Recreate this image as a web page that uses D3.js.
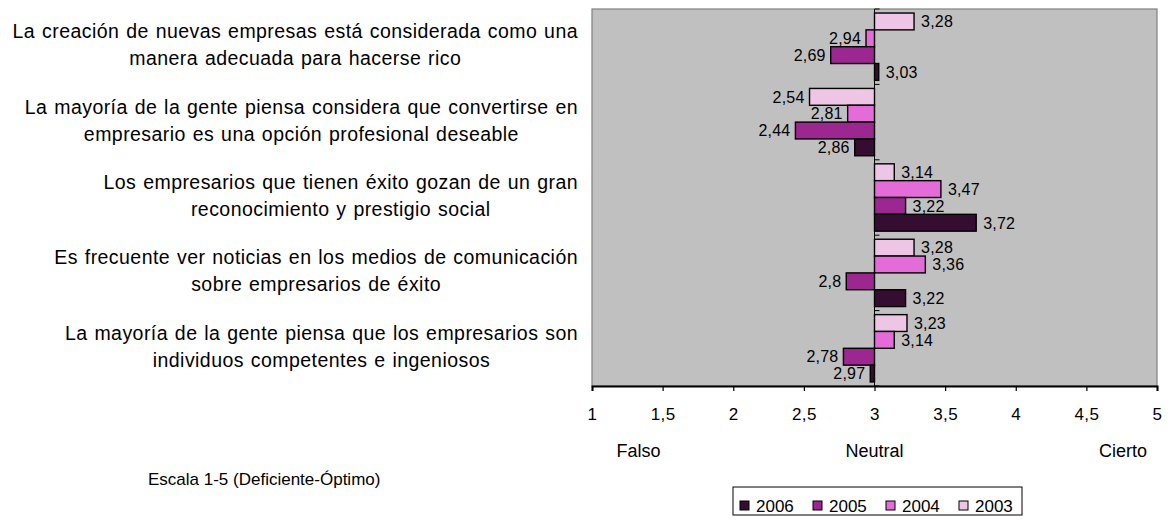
<!DOCTYPE html>
<html>
<head>
<meta charset="utf-8">
<script src="https://cdn.jsdelivr.net/npm/d3@7"></script>
<style>
  html, body { margin: 0; padding: 0; background: #ffffff; }
  svg { display: block; font-family: "Liberation Sans", Arial, sans-serif; }
</style>
</head>
<body>
<svg id="chart" width="1168" height="524"></svg>
<script>
// Survey statements (each split into its display lines), top to bottom
const categories = [
  ["La creación de nuevas empresas está considerada como una", "manera adecuada para hacerse rico"],
  ["La mayoría de la gente piensa considera que convertirse en", "empresario es una opción profesional deseable"],
  ["Los empresarios que tienen éxito gozan de un gran", "reconocimiento y prestigio social"],
  ["Es frecuente ver noticias en los medios de comunicación", "sobre empresarios de éxito"],
  ["La mayoría de la gente piensa que los empresarios son", "individuos competentes e ingeniosos"]
];

// Yearly scores on the 1-5 scale, one value per statement
const years = ["2003", "2004", "2005", "2006"];
const values2003 = [3.28, 2.54, 3.14, 3.28, 3.23];
const values2004 = [2.94, 2.81, 3.47, 3.36, 3.14];
const values2005 = [2.69, 2.44, 3.22, 2.80, 2.78];
const values2006 = [3.03, 2.86, 3.72, 3.22, 2.97];

const xTicks = [1, 1.5, 2, 2.5, 3, 3.5, 4, 4.5, 5];
const scaleNames = [{ v: 1.33, t: "Falso" }, { v: 3, t: "Neutral" }, { v: 4.76, t: "Cierto" }];
const legendOrder = ["2006", "2005", "2004", "2003"];
const footnote = "Escala 1-5 (Deficiente-Óptimo)";

const seriesByYear = { "2003": values2003, "2004": values2004, "2005": values2005, "2006": values2006 };
const colors = { "2006": "#350d31", "2005": "#9c2790", "2004": "#e36cd9", "2003": "#efc5e6" };

const svg = d3.select("#chart");
const plot = { left: 592, right: 1157, top: 9, bottom: 386 };

const x = d3.scaleLinear().domain([1, 5]).range([plot.left, plot.right]);
const catIdx = d3.range(categories.length);
const y = d3.scaleBand().domain(catIdx).range([plot.top, plot.bottom])
  .paddingInner(0.107).paddingOuter(0.0535);
const ySub = d3.scaleBand().domain(years).range([0, y.bandwidth()]);

const fmt = v => String(v).replace(".", ",");

// Plot background
svg.append("rect")
  .attr("x", plot.left).attr("y", plot.top)
  .attr("width", plot.right - plot.left).attr("height", plot.bottom - plot.top)
  .attr("fill", "#c0c0c0").attr("stroke", "#808080").attr("stroke-width", 1.2);

// Bars
const rows = [];
catIdx.forEach(i => years.forEach(yr => rows.push({ i, yr, v: seriesByYear[yr][i] })));

svg.append("g").selectAll("rect").data(rows).join("rect")
  .attr("x", d => x(Math.min(d.v, 3)))
  .attr("y", d => y(d.i) + ySub(d.yr))
  .attr("width", d => Math.abs(x(d.v) - x(3)))
  .attr("height", ySub.bandwidth())
  .attr("fill", d => colors[d.yr])
  .attr("stroke", "#000").attr("stroke-width", 1.4);

// Category axis crossing at the neutral value
const catAxis = svg.append("g");
catAxis.append("line")
  .attr("x1", x(3)).attr("x2", x(3))
  .attr("y1", plot.top).attr("y2", plot.bottom)
  .attr("stroke", "#000").attr("stroke-width", 1);
const bounds = catIdx.map(i => y(i) - y.step() * y.paddingOuter()).concat([plot.bottom]);
catAxis.selectAll("line.tk").data(bounds).join("line").attr("class", "tk")
  .attr("x1", x(3)).attr("x2", x(3) + 5)
  .attr("y1", d => d).attr("y2", d => d)
  .attr("stroke", "#000").attr("stroke-width", 1);

// Value labels
svg.append("g").selectAll("text").data(rows).join("text")
  .attr("x", d => d.v >= 3 ? x(d.v) + 7 : x(d.v) - 5)
  .attr("y", d => y(d.i) + ySub(d.yr) + ySub.bandwidth() / 2)
  .attr("dy", "0.36em")
  .attr("text-anchor", d => d.v >= 3 ? "start" : "end")
  .attr("font-size", 16).attr("letter-spacing", 0.2)
  .attr("fill", "#000")
  .text(d => fmt(d.v));

// Value axis
const xAxis = svg.append("g").attr("transform", `translate(0,${plot.bottom})`)
  .call(d3.axisBottom(x).tickValues(xTicks).tickSize(5).tickPadding(17).tickFormat(fmt));
xAxis.select(".domain").attr("stroke", "#000").attr("stroke-width", 2);
xAxis.selectAll(".tick line").attr("stroke", "#000").attr("stroke-width", 1.2);
xAxis.selectAll(".tick text").attr("font-size", 17).attr("letter-spacing", 0.4)
  .attr("font-family", "Liberation Sans, Arial, sans-serif").attr("fill", "#000");

// Scale meaning under the axis
svg.append("g").selectAll("text").data(scaleNames).join("text")
  .attr("x", d => x(d.v)).attr("y", 457)
  .attr("text-anchor", "middle")
  .attr("font-size", 18).attr("fill", "#000")
  .text(d => d.t);

// Statement labels: lines centred within each block, blocks right-aligned
const labelRight = 578;
const lineGap = 27;
catIdx.forEach(i => {
  const g = svg.append("g");
  const cy = y(i) + y.bandwidth() / 2 - 2;
  const n = categories[i].length;
  const texts = g.selectAll("text").data(categories[i]).join("text")
    .attr("y", (d, k) => cy + (k - (n - 1) / 2) * lineGap)
    .attr("dy", "0.36em")
    .attr("text-anchor", "middle")
    .attr("font-size", 19.5).attr("letter-spacing", 0.45).attr("word-spacing", 1)
    .attr("fill", "#000")
    .text(d => d);
  let maxW = 0;
  texts.each(function () { maxW = Math.max(maxW, this.getComputedTextLength()); });
  texts.attr("x", labelRight - maxW / 2);
});

// Footnote
svg.append("text")
  .attr("x", 148).attr("y", 485)
  .attr("font-size", 17).attr("fill", "#000")
  .text(footnote);

// Legend
const legend = svg.append("g");
legend.append("rect")
  .attr("x", 733).attr("y", 487).attr("width", 289).attr("height", 28)
  .attr("fill", "#fff").attr("stroke", "#000").attr("stroke-width", 1);
const items = legend.selectAll("g").data(legendOrder).join("g")
  .attr("transform", (d, k) => `translate(${740 + k * 73},501)`);
items.append("rect").attr("width", 9).attr("height", 9)
  .attr("fill", d => colors[d]).attr("stroke", "#000").attr("stroke-width", 1);
items.append("text").attr("x", 16).attr("y", 4.5).attr("dy", "0.36em")
  .attr("font-size", 17).attr("fill", "#000")
  .text(d => d);
</script>
</body>
</html>
